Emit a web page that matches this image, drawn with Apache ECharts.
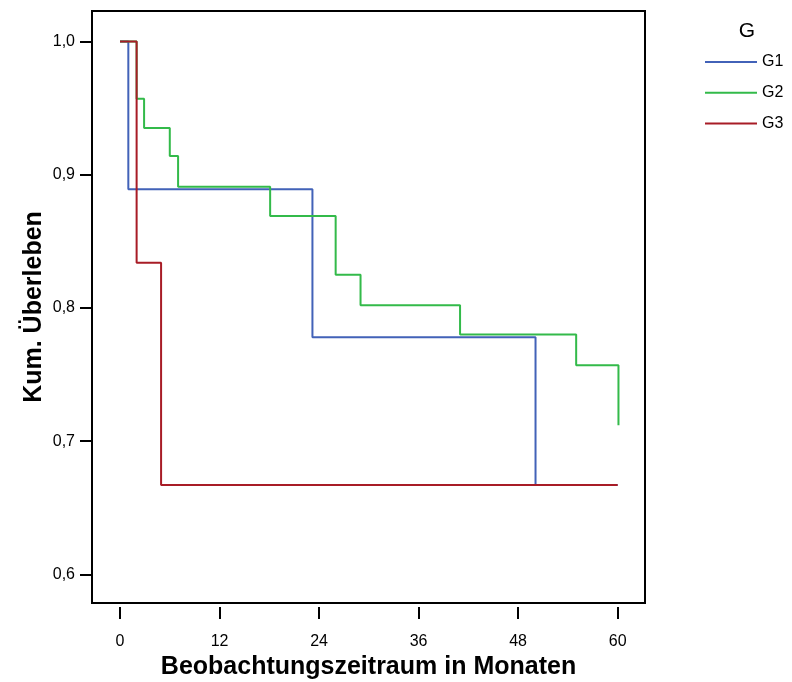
<!DOCTYPE html>
<html>
<head>
<meta charset="utf-8">
<script src="https://cdn.jsdelivr.net/npm/echarts@6/dist/echarts.min.js"></script>
<style>
html,body{margin:0;padding:0;background:#fff;}
#c{width:792px;height:682px;}
</style>
</head>
<body>
<div id="c"></div>
<script>
// Kaplan-Meier step data (time in months, cumulative survival)
const g1Time = [0, 1.0, 23.2, 50.1, 60];
const g1Surv = [1.0, 0.889, 0.778, 0.667, 0.667];
const g2Time = [0, 2.0, 2.9, 6.0, 7.0, 18.1, 26.0, 29.0, 41.0, 55.0, 60.1];
const g2Surv = [1.0, 0.957, 0.935, 0.914, 0.891, 0.869, 0.825, 0.802, 0.780, 0.757, 0.712];
const g3Time = [0, 2.0, 4.95, 60];
const g3Surv = [1.0, 0.834, 0.667, 0.667];
const xTicks = [0, 12, 24, 36, 48, 60];
const yTicks = [0.6, 0.7, 0.8, 0.9, 1.0];
const groupNames = ['G1', 'G2', 'G3'];
const groupColors = ['#4262b8', '#33ba4a', '#a81c26'];

function pairs(t, s) { return t.map((v, i) => [v, s[i]]); }
const seriesData = [pairs(g1Time, g1Surv), pairs(g2Time, g2Surv), pairs(g3Time, g3Surv)];

const font = "'Liberation Sans', Arial, sans-serif";
const chart = echarts.init(document.getElementById('c'), null, {renderer: 'canvas'});
chart.setOption({
  animation: false,
  backgroundColor: '#fff',
  grid: {left: 92, right: 147, top: 11, bottom: 79, show: true, borderColor: '#000', borderWidth: 2, backgroundColor: 'transparent', containLabel: false, outerBoundsMode: 'none'},
  graphic: [{type: 'text', x: 747, y: 31, style: {text: 'G', font: '21px ' + font, fill: '#000', textAlign: 'center', textVerticalAlign: 'middle'}}],
  legend: {
    orient: 'vertical', left: 705, top: 54, padding: 0, itemWidth: 52, itemHeight: 14, itemGap: 14.8,
    icon: 'path://M0,0 L52,0 L52,2 L0,2 Z',
    textStyle: {fontFamily: font, fontSize: 16, color: '#000'},
    data: groupNames
  },
  xAxis: {
    type: 'value', min: -3.38, max: 63.3, offset: 4,
    name: 'Beobachtungszeitraum in Monaten', nameLocation: 'middle', nameGap: 48,
    nameTextStyle: {fontFamily: font, fontSize: 25, fontWeight: 'bold', color: '#000'},
    axisLine: {show: false, onZero: false},
    axisTick: {show: true, length: 12, lineStyle: {color: '#000', width: 2}, customValues: xTicks},
    axisLabel: {fontFamily: font, fontSize: 16, color: '#000', margin: 27, customValues: xTicks, formatter: v => String(v)},
    splitLine: {show: false}
  },
  yAxis: {
    type: 'value', min: 0.5785, max: 1.0229,
    name: 'Kum. Überleben', nameLocation: 'middle', nameGap: 45, nameMoveOverlap: false,
    nameTextStyle: {fontFamily: font, fontSize: 25, fontWeight: 'bold', color: '#000'},
    axisLine: {show: false, onZero: false},
    axisTick: {show: true, length: 12, lineStyle: {color: '#000', width: 2}, customValues: yTicks},
    axisLabel: {fontFamily: font, fontSize: 16, color: '#000', margin: 17, customValues: yTicks, formatter: v => v.toFixed(1).replace('.', ',')},
    splitLine: {show: false}
  },
  series: groupNames.map((n, i) => ({
    name: n, type: 'line', step: 'end', data: seriesData[i], symbol: 'none', showSymbol: false,
    lineStyle: {color: groupColors[i], width: 2}, itemStyle: {color: groupColors[i]}, z: 2 + i, clip: true
  }))
});
</script>
</body>
</html>
